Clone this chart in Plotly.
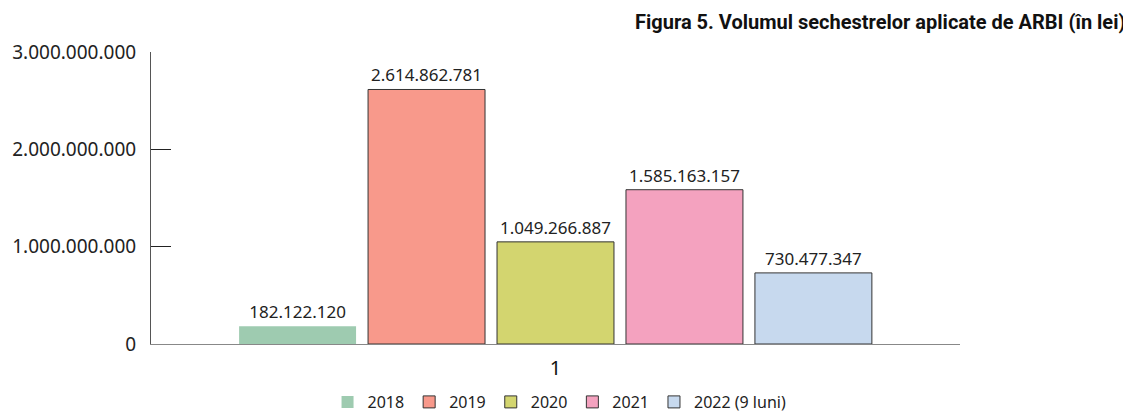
import plotly.graph_objects as go

categories = ["1"]
series_names = ["2018", "2019", "2020", "2021", "2022 (9 luni)"]
series_values = [182122120, 2614862781, 1049266887, 1585163157, 730477347]
colors = ["#9ECBB0", "#F8998B", "#D3D56F", "#F4A2BF", "#C7D9EE"]
line_widths = [0, 1, 1, 1, 1]
y_ticks = [0, 1000000000, 2000000000, 3000000000]
title_text = "Figura 5. Volumul sechestrelor aplicate de ARBI (în lei)"

fig = go.Figure()
for name, val, col, lw in zip(series_names, series_values, colors, line_widths):
    fig.add_trace(go.Bar(
        x=categories, y=[val], name=name,
        marker=dict(color=col, line=dict(color="#333333", width=lw)),
        texttemplate="%{y:,}", textposition="outside",
        textfont=dict(family="Noto Sans", size=17, color="#222222"),
        cliponaxis=False,
    ))

fig.update_layout(
    width=1123, height=412,
    margin=dict(l=143, r=171, t=44, b=76, autoexpand=False),
    paper_bgcolor="white", plot_bgcolor="white",
    separators=",.",
    barmode="group", bargap=0.203, bargroupgap=0.093,
    font=dict(family="Noto Sans", color="#222222"),
    showlegend=True,
    legend=dict(orientation="h", x=0.505, xanchor="center", y=-0.1986, yanchor="middle",
                font=dict(family="Noto Sans", size=16, color="#222222"),
                itemwidth=30, traceorder="normal"),
    annotations=[dict(text="<b>" + title_text + "</b>", xref="paper", yref="paper",
                      x=1.2064, y=1.1027, xanchor="right", yanchor="middle", showarrow=False,
                      font=dict(family="Roboto", size=20, color="#111111"))],
)
fig.update_yaxes(range=[0, 3000000000], tickvals=y_ticks, tickformat=",",
                 automargin=False, ticklabelstandoff=10,
                 showgrid=False, zeroline=False, showline=True, linecolor="#555555", linewidth=1,
                 ticks="inside", ticklen=20, tickcolor="#222222",
                 tickfont=dict(family="Noto Sans", size=19, color="#222222"))
fig.update_xaxes(showgrid=False, showline=True, linecolor="#888888", linewidth=1,
                 automargin=False, ticklabelstandoff=6,
                 ticks="inside", ticklen=5, tickcolor="#222222", tickson="boundaries",
                 tickfont=dict(family="Noto Sans", size=20, color="#111111"))

fig.write_html("out.html")
